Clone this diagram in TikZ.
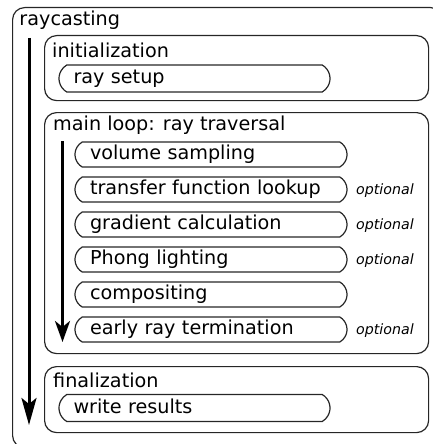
\documentclass[tikz,border=0pt]{standalone}
\usepackage{fontspec}
\setmainfont{DejaVu Sans}
\usetikzlibrary{shapes.misc,arrows.meta}
\newcommand{\mainsize}{\fontsize{19.2}{23}\selectfont}
\newcommand{\optsize}{\fontsize{14.2}{17}\selectfont\itshape}
\tikzset{
  container/.style={draw=black!85, line width=1.2pt, rounded corners=12pt,
    minimum width=384pt, anchor=north west, inner sep=0pt},
  boxlabel/.style={anchor=base west, inner sep=0pt, font=\mainsize},
  stepbox/.style={rounded rectangle, rounded rectangle arc length=120,
    draw=black!85, line width=1.2pt, minimum width=272pt, minimum height=25pt,
    text width=242pt, align=left, inner xsep=0pt, inner ysep=0pt,
    text height=13pt, text depth=3pt, font=\mainsize},
  optlabel/.style={anchor=base west, inner sep=0pt, font=\optsize},
  flow/.style={line width=3pt, -{Stealth[length=#1, width=15pt, inset=6pt]}},
}
\begin{document}
\begin{tikzpicture}[x=1pt, y=-1pt]
  \path[use as bounding box, clip] (0,0) rectangle (433,444);
  % outer box
  \node[container, minimum width=430pt, minimum height=440pt] (outer) at (12,7) {};
  \node[boxlabel] (outerlabel) at (19.3,26) {raycasting};
  \coordinate (oa) at (29,38);
  \coordinate (ob) at (29,425);
  \draw[flow=27pt] (oa) -- (ob);
  % initialization
  \node[container, minimum height=65pt] (init) at (44,35) {};
  \node[boxlabel] (initlabel) at (52,57) {initialization};
  \node[stepbox, minimum width=271pt, minimum height=27pt] (ray) at (194.5,78.5) {ray setup};
  % main loop
  \node[container, minimum height=241pt] (main) at (44,112) {};
  \node[boxlabel] (mainlabel) at (53,130) {main loop: ray traversal};
  \coordinate (ia) at (62.5,141);
  \coordinate (ib) at (62.5,342);
  \draw[flow=21pt] (ia) -- (ib);
  \node[stepbox] (s1) at (211,154.5) {volume sampling};
  \node[stepbox] (s2) at (211,189.5) {transfer function lookup};
  \node[stepbox] (s3) at (211,224.5) {gradient calculation};
  \node[stepbox] (s4) at (211,259.5) {Phong lighting};
  \node[stepbox] (s5) at (211,294.5) {compositing};
  \node[stepbox] (s6) at (211,329.5) {early ray termination};
  \node[optlabel] (o2) at (356,194.5) {optional};
  \node[optlabel] (o3) at (356,229.5) {optional};
  \node[optlabel] (o4) at (356,264.5) {optional};
  \node[optlabel] (o6) at (356,334.5) {optional};
  % finalization
  \node[container, minimum height=66pt] (final) at (44,366) {};
  \node[boxlabel] (finallabel) at (53,387) {finalization};
  \node[stepbox, minimum width=271pt, minimum height=27pt] (write) at (194.5,408) {write results};
\end{tikzpicture}
\end{document}
